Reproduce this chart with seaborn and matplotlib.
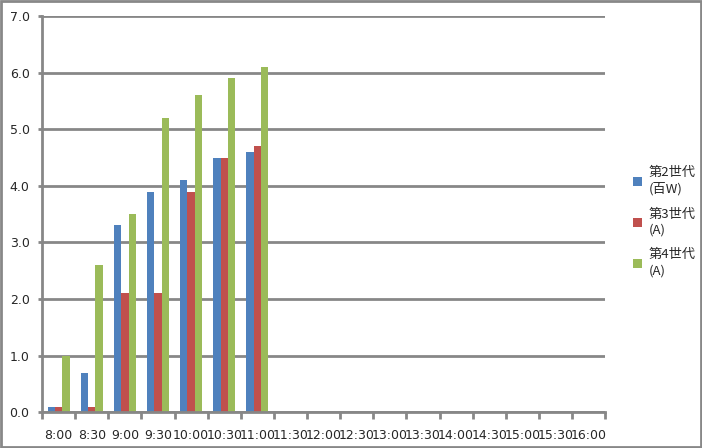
import pandas as pd
import matplotlib.pyplot as plt
import seaborn as sns
from matplotlib.patches import Rectangle
from matplotlib.ticker import MultipleLocator, FixedLocator

# time slots shown on the x axis
times = ["8:00", "8:30", "9:00", "9:30", "10:00", "10:30", "11:00", "11:30",
         "12:00", "12:30", "13:00", "13:30", "14:00", "14:30", "15:00", "15:30", "16:00"]
# only the first seven slots have data
data_times = ["8:00", "8:30", "9:00", "9:30", "10:00", "10:30", "11:00"]
gen2 = [0.1, 0.7, 3.3, 3.9, 4.1, 4.5, 4.6]
gen3 = [0.1, 0.1, 2.1, 2.1, 3.9, 4.5, 4.7]
gen4 = [1.0, 2.6, 3.5, 5.2, 5.6, 5.9, 6.1]
series = ["第2世代\n(百W)", "第3世代\n(A)", "第4世代\n(A)"]
colors = ["#4F81BD", "#C0504D", "#9BBB59"]

rows = []
for name, vals in zip(series, [gen2, gen3, gen4]):
    for t, v in zip(data_times, vals):
        rows.append({"time": t, "series": name, "value": v})
df = pd.DataFrame(rows)

sns.set_style("white")
plt.rcParams["font.family"] = ["DejaVu Sans", "Noto Sans CJK JP"]

fig, ax = plt.subplots(figsize=(7.02, 4.48), dpi=100)
fig.subplots_adjust(left=0.06, right=0.862, bottom=0.080, top=0.964)

sns.barplot(data=df, x="time", y="value", hue="series", order=times,
            hue_order=series, palette=colors, width=0.667, gap=0,
            saturation=1, edgecolor="none", linewidth=0, ax=ax)

grey = "#878787"
ax.set_xlim(-0.5, len(times) - 0.5)
ax.set_ylim(0, 7)
ax.yaxis.set_major_locator(MultipleLocator(1.0))
ax.yaxis.set_major_formatter(plt.FuncFormatter(lambda v, p: f"{v:.1f}"))
ax.grid(axis="y", color=grey, linewidth=2)
ax.set_axisbelow(True)
ax.set_xlabel("")
ax.set_ylabel("")

for s in ["top", "right"]:
    ax.spines[s].set_visible(False)
for s in ["left", "bottom"]:
    ax.spines[s].set_color(grey)
    ax.spines[s].set_linewidth(2)

ax.xaxis.set_minor_locator(FixedLocator([i - 0.5 for i in range(len(times) + 1)]))
ax.tick_params(axis="x", which="major", length=0, pad=12, labelsize=9)
ax.tick_params(axis="x", which="minor", bottom=True, length=5, width=2, color=grey, direction="out")
ax.tick_params(axis="y", which="major", left=True, length=3, width=2, color=grey, labelsize=9, pad=6)

leg = ax.legend(loc="center left", bbox_to_anchor=(0.885, 0.505),
                bbox_transform=fig.transFigure, frameon=False,
                handlelength=0.7, handleheight=0.7, handletextpad=0.5,
                labelspacing=0.9,
                prop={"family": ["Noto Sans CJK JP", "DejaVu Sans"], "size": 9.5})
for txt in leg.get_texts():
    txt.set_linespacing(1.3)

fig.patches.append(Rectangle((0.0015, 0.002), 0.997, 0.996, transform=fig.transFigure,
                             fill=False, edgecolor="#888888", linewidth=2))

fig.savefig("out.png", dpi=100)
